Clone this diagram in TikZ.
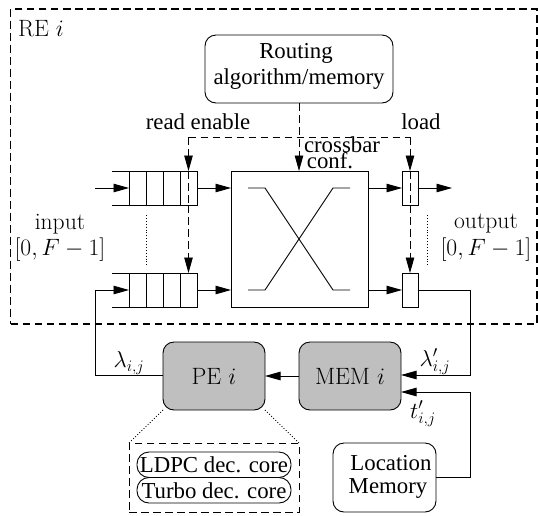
\RequirePackage{fix-cm}
\documentclass[tikz,border=0pt]{standalone}
\usepackage{fontspec}
\setmainfont{Liberation Serif}
\newfontfamily\lmr{Latin Modern Roman}
\DeclareMathSizes{22.8}{23}{16}{12}
\DeclareMathSizes{23.6}{23.6}{16}{12}
\usetikzlibrary{arrows.meta,positioning}
\tikzset{
  wire/.style={line width=0.9pt},
  dwire/.style={line width=0.9pt,dash pattern=on 7.5pt off 4.5pt},
  outerd/.style={line width=1.1pt,dash pattern=on 7.5pt off 4.5pt},
  arr/.style={-{Triangle[length=15.5pt,width=8.5pt]}},
  cell/.style={draw,line width=0.9pt,minimum width=17pt,minimum height=34pt,inner sep=0pt,outer sep=0pt},
  outcell/.style={cell,minimum width=16pt},
  rbox/.style={draw,line width=0.9pt,rounded corners=11pt,inner sep=0pt,outer sep=0pt,align=center},
  grey/.style={rbox,fill=black!25,minimum width=102pt,minimum height=68pt},
  lab/.style={inner sep=0pt,outer sep=0pt,font=\fontsize{22.8}{26}\selectfont},
  cmlab/.style={inner sep=0pt,outer sep=0pt,font=\fontsize{23.6}{26}\selectfont\lmr},
  pill/.style={draw,line width=0.9pt,rounded corners=12pt,inner sep=0pt,outer sep=0pt,minimum width=154pt,minimum height=25.5pt,font=\fontsize{22.8}{26}\selectfont},
}
\begin{document}
\begin{tikzpicture}[x=1pt,y=-1pt]
\useasboundingbox (0,0) rectangle (538,515);
% outer dashed region
\node[draw,outerd,inner sep=0pt,outer sep=0pt,minimum width=526.5pt,minimum height=315pt,anchor=north west] (re) at (10.5,9) {};
\node[cmlab,anchor=west] (relabel) at (18,29) {RE $i$};
% routing box
\node[rbox,minimum width=188pt,minimum height=68pt,anchor=north west] (rout) at (205,35) {};
\node[lab] (routa) at (296,53) {Routing};
\node[lab] (routb) at (299,79) {algorithm/memory};
\node[lab] (readen) at (198,122) {read enable};
\node[lab] (loadl) at (421,122) {load};
\node[lab] (cba) at (342,145) {crossbar};
\node[lab] (cbb) at (330,161) {conf.};
% queues
\foreach \n/\y in {a/188,b/290}{
  \foreach \m/\x in {1/137.5,2/154.5,3/171.5,4/188.5}{
    \node[cell] (q\n\m) at (\x,\y) {};
  }
}
\draw[wire] (qa1.north west) -- ++(-17,0) (qa1.south west) -- ++(-17,0);
\draw[wire] (qb1.north west) -- ++(-17,0) (qb1.south west) -- ++(-17,0);
% crossbar
\node[draw,line width=0.9pt,inner sep=0pt,outer sep=0pt,minimum width=137pt,minimum height=136pt,anchor=north west] (xbar) at (231,171) {};
\coordinate (xa) at (248,188);
\coordinate (xb) at (265,188);
\coordinate (xc) at (333,290);
\coordinate (xd) at (350,290);
\coordinate (xe) at (248,290);
\coordinate (xf) at (265,290);
\coordinate (xg) at (333,188);
\coordinate (xh) at (350,188);
\draw[wire] (xa) -- (xb) -- (xc) -- (xd);
\draw[wire] (xe) -- (xf) -- (xg) -- (xh);
% output cells
\node[outcell] (ota) at (410,188) {};
\node[outcell] (otb) at (410,290) {};
% input/output labels
\node[cmlab] (inl) at (60,224) {input};
\node[cmlab] (inr) at (60,250) {$[0,F-1]$};
\node[cmlab] (oul) at (486,224) {output};
\node[cmlab] (our) at (486,250) {$[0,F-1]$};
% dotted
\coordinate (da) at (146,215); \coordinate (db) at (146,266);
\coordinate (dc) at (427,215); \coordinate (dd) at (427,266);
\draw[wire,dotted] (da) -- (db);
\draw[wire,dotted] (dc) -- (dd);
% queue/crossbar arrows
\coordinate (ina) at (95,188);
\coordinate (inb) at (95,290);
\coordinate (outa) at (452,188);
\coordinate (corner) at (470,290);
\draw[wire,arr] (ina) -- (qa1.west);
\draw[wire,arr] (qa4.east) -- (xbar.west |- qa4.east);
\draw[wire,arr] (qb4.east) -- (xbar.west |- qb4.east);
\draw[wire,arr] (xbar.east |- ota.west) -- (ota.west);
\draw[wire,arr] (xbar.east |- otb.west) -- (otb.west);
\draw[wire,arr] (ota.east) -- (outa);
% PE, MEM
\node[grey,anchor=north west] (pe) at (163,342) {};
\node[cmlab] (pel) at (214,376) {PE $i$};
\node[grey,anchor=north west] (mem) at (299,342) {};
\node[cmlab] (meml) at (350,376) {MEM $i$};
\coordinate (memlo) at (401,392);
\coordinate (memhi) at (401,375);
\coordinate (rightt) at (470,392);
\coordinate (rightl) at (470,375);
\coordinate (leftl) at (95,375);
\draw[wire,arr] (mem.west) -- (pe.east);
\draw[wire] (inb) -- (leftl) -- (pe.west |- leftl);
\draw[wire,arr] (inb) -- (qb1.west);
\draw[wire,arr] (otb.east) -- (corner) -- (rightl) -- (memhi);
\node[lab,anchor=center] (lam) at (129,363) {$\lambda_{i,j}$};
\node[lab,anchor=center] (lamp) at (435,362) {$\lambda'_{i,j}$};
\node[lab,anchor=center] (tp) at (423,414) {$t'_{i,j}$};
% location memory
\node[rbox,minimum width=103pt,minimum height=69pt,anchor=north west] (loc) at (333,443) {};
\node[lab] (loca) at (391,463) {Location};
\node[lab] (locb) at (388,488) {Memory};
\draw[wire,arr] (loc.east) -- (loc.east -| rightt) -- (rightt) -- (memlo);
% dashed control wires
\coordinate (rda) at (188.5,137);
\coordinate (rdb) at (410,137);
\draw[dwire] (rda) -- (rdb);
\draw[dwire,arr] (rout.south) -- (xbar.north -| rout.south);
\draw[dwire,arr] (rda) -- (qa4.north);
\draw[dwire] (qa4.north) -- (qa4.south);
\draw[dwire,arr] (qa4.south) -- (qb4.north);
\draw[dwire,arr] (rdb) -- (ota.north);
\draw[dwire] (ota.north) -- (ota.south);
\draw[dwire,arr] (ota.south) -- (otb.north);
% PE detail
\node[draw,dwire,inner sep=0pt,outer sep=0pt,minimum width=170pt,minimum height=69pt,anchor=north west] (det) at (129,443) {};
\node[pill,anchor=north west] (ldpc) at (137,452) {LDPC dec. core};
\node[pill,anchor=north west] (turbo) at (137,477.5) {Turbo dec. core};
\draw[wire,dotted] (pe.south west) -- (det.north west);
\draw[wire,dotted] (pe.south east) -- (det.north east);
\end{tikzpicture}
\end{document}
